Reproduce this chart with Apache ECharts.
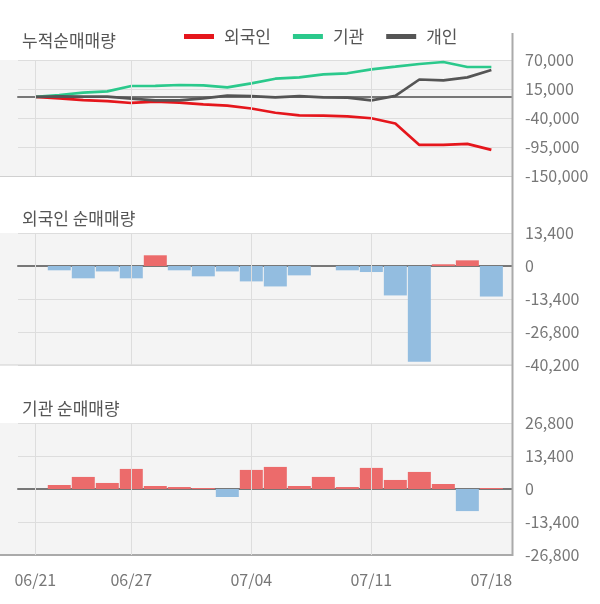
<!DOCTYPE html>
<html>
<head>
<meta charset="utf-8">
<script src="https://cdn.jsdelivr.net/npm/echarts@6/dist/echarts.min.js"></script>
<style>
html,body{margin:0;padding:0;background:#fff;}
#chart{width:600px;height:604px;}
</style>
</head>
<body>
<div id="chart"></div>
<script>
// ---- data ----
var dates = ['06/21','06/24','06/25','06/26','06/27','06/28','07/01','07/02','07/03','07/04',
             '07/05','07/08','07/09','07/10','07/11','07/12','07/15','07/16','07/17','07/18'];
var labelIdx = [0, 4, 9, 14, 19];
var gridIdx = [0, 4, 9, 14];

var foreignCum = [0,-2600,-6000,-8000,-11500,-9000,-11000,-14000,-16500,-22000,
                  -30000,-35000,-35500,-37000,-40500,-50500,-91000,-91000,-89000,-100500];
var instCum = [0,3600,8000,10600,20700,21000,22600,22000,18200,25800,
               34500,37200,42900,44800,52300,57300,62400,66200,56700,56700];
var indivCum = [0,1000,700,600,-3400,-6500,-6500,-2700,2300,1500,
                -800,1500,-800,-1300,-6500,2000,33000,31400,37100,51000];

var foreignDaily = [0,-1750,-5000,-2200,-5000,4350,-1750,-4200,-2200,-6250,
                    -8300,-3800,0,-1750,-2450,-11950,-38900,700,2300,-12400];
var instDaily = [0,1630,4900,2450,8150,1220,800,400,-3260,7750,
                 8970,1220,4900,800,8570,3670,6930,2040,-8970,400];

var topTicks = [-150000, -95000, -40000, 15000, 70000];
var midTicks = [-40200, -26800, -13400, 0, 13400];
var botTicks = [-26800, -13400, 0, 13400, 26800];

var seriesNames = ['외국인', '기관', '개인'];

// ---- build ----
function pairs(arr){ return arr.map(function(v,i){ return [i, v]; }); }
var FONT = 'Noto Sans CJK KR';
var XMIN = -0.72, XMAX = 19.86;
var grids = [
  {left:18, right:88, top:60, height:116},
  {left:18, right:88, top:233, height:132},
  {left:18, right:88, top:423, height:132}
];
var yTicks = [topTicks, midTicks, botTicks];

var xAxes = [], yAxes = [];
for (var g = 0; g < 3; g++) {
  xAxes.push({
    type:'value', gridIndex:g, min:XMIN, max:XMAX,
    axisLine:{show:true, onZero:true, lineStyle:{color:'#777', width:2}},
    axisTick:{show:false}, axisLabel:{show:false}, splitLine:{show:false}
  });
  var t = yTicks[g];
  yAxes.push({
    type:'value', gridIndex:g, position:'right',
    min:t[0], max:t[t.length-1], interval:t[1]-t[0],
    axisLine:{show:false}, axisTick:{show:false},
    axisLabel:{color:'#777', fontSize:16, fontFamily:FONT, margin:13},
    splitLine:{show:true, lineStyle:{color:'#dddddd', width:1}}
  });
}
// label axis for the dates
xAxes.push({
  type:'value', gridIndex:2, min:XMIN, max:XMAX, position:'bottom',
  axisLine:{show:false, onZero:false}, axisTick:{show:false}, splitLine:{show:false},
  axisLabel:{show:true, customValues:labelIdx, color:'#777', fontSize:16, fontFamily:FONT, margin:17,
    formatter:function(v){ return dates[Math.round(v)] || ''; }}
});

function vlines(g){
  return {
    type:'line', xAxisIndex:g, yAxisIndex:g, data:[[0,0]], z:1,
    showSymbol:false, symbol:'none', lineStyle:{width:0, opacity:0}, silent:true,
    markLine:{silent:true, symbol:['none','none'], label:{show:false},
      lineStyle:{color:'#dddddd', width:1, type:'solid'},
      emphasis:{disabled:true},
      data: gridIdx.map(function(i){ return {xAxis:i}; })}
  };
}
function barColor(p){ return p.value[1] >= 0 ? '#ec6b6b' : '#93bde0'; }

var series = [
  vlines(0), vlines(1), vlines(2),
  {name:seriesNames[0], type:'line', xAxisIndex:0, yAxisIndex:0, data:pairs(foreignCum),
   showSymbol:false, symbol:'none', lineStyle:{color:'#e5161c', width:2.7}, itemStyle:{color:'#e5161c'}, z:3},
  {name:seriesNames[1], type:'line', xAxisIndex:0, yAxisIndex:0, data:pairs(instCum),
   showSymbol:false, symbol:'none', lineStyle:{color:'#2bc98c', width:2.7}, itemStyle:{color:'#2bc98c'}, z:3},
  {name:seriesNames[2], type:'line', xAxisIndex:0, yAxisIndex:0, data:pairs(indivCum),
   showSymbol:false, symbol:'none', lineStyle:{color:'#555555', width:2.7}, itemStyle:{color:'#555555'}, z:3},
  {type:'bar', xAxisIndex:1, yAxisIndex:1, data:pairs(foreignDaily), barWidth:23,
   itemStyle:{color:barColor}, z:2},
  {type:'bar', xAxisIndex:2, yAxisIndex:2, data:pairs(instDaily), barWidth:23,
   itemStyle:{color:barColor}, z:2}
];

var bg = '#f4f4f4';
var graphic = [
  {type:'rect', shape:{x:0, y:60, width:512, height:116}, style:{fill:bg}, z:-10, silent:true},
  {type:'rect', shape:{x:0, y:233, width:512, height:132}, style:{fill:bg}, z:-10, silent:true},
  {type:'rect', shape:{x:0, y:423, width:512, height:132}, style:{fill:bg}, z:-10, silent:true},
  {type:'line', shape:{x1:0, y1:176.5, x2:512, y2:176.5}, style:{stroke:'#d0d0d0', lineWidth:1}, z:5, silent:true},
  {type:'line', shape:{x1:0, y1:365, x2:512, y2:365}, style:{stroke:'#d0d0d0', lineWidth:1}, z:5, silent:true},
  {type:'line', shape:{x1:0, y1:555, x2:513, y2:555}, style:{stroke:'#aaaaaa', lineWidth:2}, z:5, silent:true},
  {type:'line', shape:{x1:512.5, y1:33, x2:512.5, y2:556}, style:{stroke:'#aaaaaa', lineWidth:2}, z:5, silent:true}
];

var option = {
  animation:false,
  backgroundColor:'#ffffff',
  textStyle:{fontFamily:FONT},
  title:[
    {text:'누적순매매량', left:22, top:32, padding:0, textStyle:{fontSize:17, fontWeight:'normal', color:'#555', fontFamily:FONT}},
    {text:'외국인 순매매량', left:22, top:210, padding:0, textStyle:{fontSize:17, fontWeight:'normal', color:'#555', fontFamily:FONT}},
    {text:'기관 순매매량', left:22, top:400, padding:0, textStyle:{fontSize:17, fontWeight:'normal', color:'#555', fontFamily:FONT}}
  ],
  legend:{
    data:seriesNames, left:184, top:28, padding:0, icon:'rect', itemWidth:30, itemHeight:5, itemGap:22,
    textStyle:{fontSize:17, color:'#555', fontFamily:FONT, padding:[0,0,0,5]}
  },
  grid:grids,
  xAxis:xAxes,
  yAxis:yAxes,
  series:series,
  graphic:graphic
};
var chart = echarts.init(document.getElementById('chart'), null, {renderer:'canvas'});
chart.setOption(option);
</script>
</body>
</html>
